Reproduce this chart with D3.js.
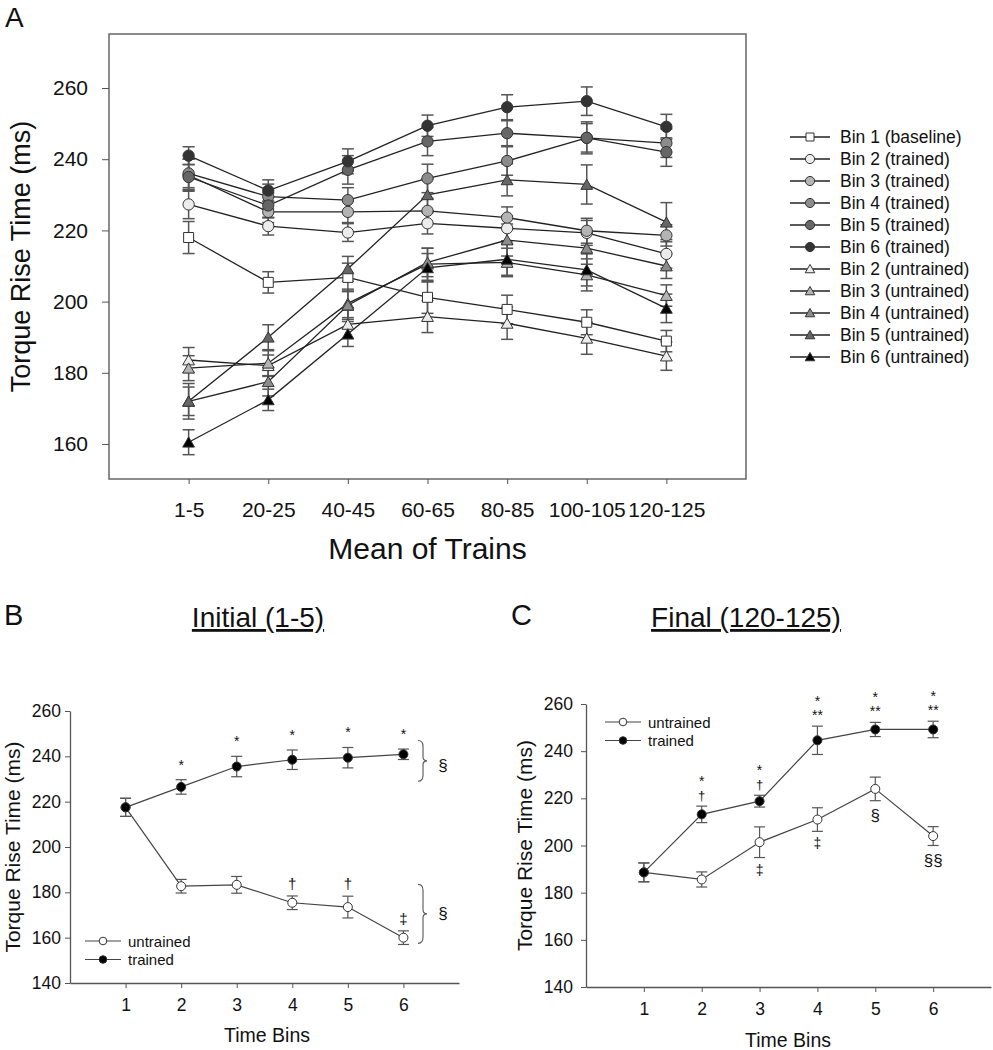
<!DOCTYPE html>
<html><head><meta charset="utf-8">
<script src="https://cdn.jsdelivr.net/npm/d3@7"></script>
<style>body{margin:0;background:#fff}svg{font-family:"Liberation Sans",Arial,sans-serif}</style>
</head><body>
<svg id="c" width="993" height="1050"></svg>
<script>
// ---------- Panel A data ----------
const trainsCats = ["1-5","20-25","40-45","60-65","80-85","100-105","120-125"];
const yTicksA = [160,180,200,220,240,260];
const seriesNamesA = ["Bin 1 (baseline)","Bin 2 (trained)","Bin 3 (trained)","Bin 4 (trained)","Bin 5 (trained)","Bin 6 (trained)","Bin 2 (untrained)","Bin 3 (untrained)","Bin 4 (untrained)","Bin 5 (untrained)","Bin 6 (untrained)"];
const bin1 = [218, 205.4, 206.8, 201.2, 197.8, 194.2, 188.9];
const bin2T = [227.3, 221.2, 219.4, 222, 220.6, 219.3, 213.4];
const bin3T = [235.5, 225.2, 225.2, 225.5, 223.6, 219.9, 218.6];
const bin4T = [236, 229.5, 228.5, 234.6, 239.5, 246, 244.5];
const bin5T = [235, 227, 237, 245, 247.3, 246, 242];
const bin6T = [241, 231.2, 239.4, 249.4, 254.6, 256.3, 249.1];
const bin2U = [183.6, 182, 193.6, 195.8, 193.9, 189.7, 184.7];
const bin3U = [181.3, 182.7, 199.5, 210.5, 211, 207.5, 201.7];
const bin4U = [172, 177.5, 199, 211, 217.3, 215, 210];
const bin5U = [172, 190, 209.2, 230, 234.2, 232.9, 222.3];
const bin6U = [160.5, 172.4, 190.9, 209.5, 211.9, 208.9, 198.1];
const err1 = [4.5, 3, 4, 4.5, 4, 3.5, 3];
const err2T = [4, 2.5, 2.5, 3, 3.5, 3.5, 4];
const err3T = [4.5, 3, 3, 3.5, 3, 3.5, 3];
const err4T = [4, 3.5, 3.5, 4, 4, 4.5, 4];
const err5T = [3.5, 3.5, 4, 4, 3.5, 4, 4];
const err6T = [2.5, 3, 3.5, 3, 3.5, 4, 3.5];
const err2U = [3.5, 3, 4, 4.5, 4.5, 4.5, 4];
const err3U = [3.5, 3.5, 4, 4.5, 4, 4.5, 3];
const err4U = [5, 4, 4, 4, 4.5, 4.5, 3.5];
const err5U = [4, 3.5, 3.5, 4.5, 4.5, 5.5, 5.5];
const err6U = [3.5, 3, 3.5, 4, 4.5, 4.5, 4];

// ---------- Panel B / C data ----------
const timeBins = [1,2,3,4,5,6];
const yTicksBC = [140,160,180,200,220,240,260];
const initTrained = [217.5, 226.5, 235.5, 238.5, 239.4, 240.9];
const initTrainedErr = [4, 3.2, 4.5, 4.3, 4.5, 2.3];
const initUntrained = [217.5, 182.7, 183.3, 175.4, 173.5, 160];
const initUntrainedErr = [4, 3, 3.7, 3, 4.8, 3];
const finTrained = [188.6, 213.2, 218.8, 244.6, 249.2, 249.2];
const finTrainedErr = [4, 3.5, 2.5, 6, 3, 3.5];
const finUntrained = [188.6, 185.6, 201.4, 211, 224, 204];
const finUntrainedErr = [4, 3.2, 6.5, 5, 5, 4];
const initAnnTrained = ["", "*", "*", "*", "*", "*"];
const initAnnUntrained = ["", "", "", "†", "†", "‡"];
const finAnnTop1 = ["", "*", "*", "*", "*", "*"];
const finAnnTop2 = ["", "†", "†", "**", "**", "**"];
const finAnnBottom = ["", "", "‡", "‡", "§", "§§"];

const svg = d3.select("#c");
const lineCol = "#222", errCol = "#555", axisCol = "#555", txt = "#111";

// ================= Panel A =================
const shapes = ["square","circle","circle","circle","circle","circle","triangle","triangle","triangle","triangle","triangle"];
const fills = ["#ffffff","#ececec","#b4b4b4","#8c8c8c","#666666","#333333","#ececec","#b4b4b4","#8c8c8c","#666666","#000000"];
const valsA = [bin1,bin2T,bin3T,bin4T,bin5T,bin6T,bin2U,bin3U,bin4U,bin5U,bin6U];
const errsA = [err1,err2T,err3T,err4T,err5T,err6T,err2U,err3U,err4U,err5U,err6U];

const xA = d3.scaleLinear().domain([-1, trainsCats.length]).range([109, 746]);
const yA = d3.scaleLinear().domain([260,160]).range([88, 444]);
const yTopA = 34, yBotA = 479;

const gA = svg.append("g");
gA.append("rect").attr("x",109).attr("y",yTopA).attr("width",746-109).attr("height",yBotA-yTopA)
  .attr("fill","none").attr("stroke","#666").attr("stroke-width",1.5);

const axLA = d3.axisLeft(yA).tickValues(yTicksA).tickSize(7).tickSizeOuter(0).tickPadding(14);
const gYA = gA.append("g").attr("transform","translate(109,0)").call(axLA);
gYA.select(".domain").remove();
gYA.selectAll("line").attr("stroke","#555");
gYA.selectAll("text").attr("font-size",21).attr("fill",txt).attr("font-family","Liberation Sans, Arial");

const axBA = d3.axisBottom(xA).tickValues(d3.range(trainsCats.length)).tickFormat(i=>trainsCats[i]).tickSize(5).tickSizeOuter(0).tickPadding(18);
const gXA = gA.append("g").attr("transform",`translate(0,${yBotA})`).call(axBA);
gXA.select(".domain").remove();
gXA.selectAll("line").attr("stroke","#555");
gXA.selectAll("text").attr("font-size",21).attr("fill",txt).attr("font-family","Liberation Sans, Arial");

gA.append("text").attr("x",5).attr("y",27).attr("font-size",28).attr("fill",txt).text("A");
gA.append("text").attr("transform",`translate(30,${(yTopA+yBotA)/2}) rotate(-90)`).attr("text-anchor","middle")
  .attr("font-size",27).attr("fill",txt).text("Torque Rise Time (ms)");
gA.append("text").attr("x",xA(3)).attr("y",559).attr("text-anchor","middle").attr("font-size",30).attr("fill",txt).text("Mean of Trains");

function symPath(shape, big){
  if(shape==="square") return d3.symbol(d3.symbolSquare, big?100:64)();
  if(shape==="circle") return d3.symbol(d3.symbolCircle, big?100:66)();
  return d3.symbol(d3.symbolTriangle, big?60:40)();
}
const lineA = d3.line().x((d,i)=>xA(i)).y(d=>yA(d));
valsA.forEach((vals,s)=>{
  const g = gA.append("g");
  vals.forEach((v,i)=>{
    const e = errsA[s][i], x = xA(i);
    g.append("line").attr("x1",x).attr("x2",x).attr("y1",yA(v-e)).attr("y2",yA(v+e)).attr("stroke",errCol).attr("stroke-width",1.5);
    [v-e, v+e].forEach(w=>g.append("line").attr("x1",x-6).attr("x2",x+6).attr("y1",yA(w)).attr("y2",yA(w)).attr("stroke",errCol).attr("stroke-width",1.5));
  });
});
valsA.forEach((vals)=>{
  gA.append("path").attr("d",lineA(vals)).attr("fill","none").attr("stroke",lineCol).attr("stroke-width",1.3);
});
valsA.forEach((vals,s)=>{
  vals.forEach((v,i)=>{
    const dy = shapes[s]==="triangle" ? 1.5 : 0;
    gA.append("path").attr("d",symPath(shapes[s],true)).attr("transform",`translate(${xA(i)},${yA(v)+dy})`)
      .attr("fill",fills[s]).attr("stroke","#333").attr("stroke-width",1);
  });
});
// legend A
const legA = gA.append("g");
seriesNamesA.forEach((n,i)=>{
  const y = 137 + i*22;
  legA.append("line").attr("x1",790).attr("x2",830).attr("y1",y).attr("y2",y).attr("stroke",lineCol).attr("stroke-width",1.3);
  legA.append("path").attr("d",symPath(shapes[i],false)).attr("transform",`translate(810,${y+(shapes[i]==="triangle"?1:0)})`)
    .attr("fill",fills[i]).attr("stroke","#333").attr("stroke-width",1);
  legA.append("text").attr("x",840).attr("y",y+6).attr("font-size",17.5).attr("fill",txt).text(n);
});

// ================= Panels B and C =================
function smallPanel(opt){
  const g = svg.append("g");
  const x = d3.scaleLinear().domain([0,7]).range([opt.x0, opt.x1]);
  const y = d3.scaleLinear().domain([140,260]).range([opt.yb, opt.yt]);
  const ax = d3.axisLeft(y).tickValues(yTicksBC).tickSize(5).tickSizeOuter(0).tickPadding(opt.yPad);
  const gy = g.append("g").attr("transform",`translate(${opt.x0},0)`).call(ax);
  gy.select(".domain").attr("stroke",axisCol).attr("stroke-width",1.3);
  gy.selectAll("line").attr("stroke",axisCol);
  gy.selectAll("text").attr("font-size",17.5).attr("fill",txt).attr("font-family","Liberation Sans, Arial");
  const bx = d3.axisBottom(x).tickValues(timeBins).tickFormat(d3.format("d")).tickSize(5).tickSizeOuter(0).tickPadding(11);
  const gx = g.append("g").attr("transform",`translate(0,${opt.yb})`).call(bx);
  gx.select(".domain").attr("stroke",axisCol).attr("stroke-width",1.3);
  gx.selectAll("line").attr("stroke",axisCol);
  gx.selectAll("text").attr("font-size",17.5).attr("fill",txt).attr("font-family","Liberation Sans, Arial");

  g.append("text").attr("x",opt.letterX).attr("y",625).attr("font-size",29).attr("fill",txt).text(opt.letter);
  g.append("text").attr("x",opt.titleX).attr("y",627).attr("text-anchor","middle").attr("font-size",28)
    .attr("fill",txt).attr("text-decoration","underline").text(opt.title);
  g.append("text").attr("transform",`translate(${opt.ytitleX},${(opt.yt+opt.yb)/2}) rotate(-90)`).attr("text-anchor","middle")
    .attr("font-size",21).attr("fill",txt).text("Torque Rise Time (ms)");
  g.append("text").attr("x",opt.xtitleX).attr("y",opt.xtitleY).attr("text-anchor","middle").attr("font-size",19.5).attr("fill",txt).text("Time Bins");

  const ln = d3.line().x((d,i)=>x(timeBins[i])).y(d=>y(d));
  [[opt.untr,opt.untrErr],[opt.tr,opt.trErr]].forEach(([vals,errs])=>{
    vals.forEach((v,i)=>{
      const e=errs[i], xx=x(timeBins[i]);
      g.append("line").attr("x1",xx).attr("x2",xx).attr("y1",y(v-e)).attr("y2",y(v+e)).attr("stroke",errCol).attr("stroke-width",1.2);
      [v-e,v+e].forEach(w=>g.append("line").attr("x1",xx-5.5).attr("x2",xx+5.5).attr("y1",y(w)).attr("y2",y(w)).attr("stroke",errCol).attr("stroke-width",1.2));
    });
  });
  [opt.untr,opt.tr].forEach(vals=>{
    g.append("path").attr("d",ln(vals)).attr("fill","none").attr("stroke","#444").attr("stroke-width",1.2);
  });
  [[opt.untr,"#fff"],[opt.tr,"#000"]].forEach(([vals,fill])=>{
    vals.forEach((v,i)=>g.append("circle").attr("cx",x(timeBins[i])).attr("cy",y(v)).attr("r",4.5)
      .attr("fill",fill).attr("stroke","#333").attr("stroke-width",1));
  });
  [["untrained","#fff"],["trained","#000"]].forEach(([n,f],i)=>{
    const ly = opt.legY + i*18.5;
    g.append("line").attr("x1",opt.legX).attr("x2",opt.legX+36).attr("y1",ly).attr("y2",ly).attr("stroke","#444").attr("stroke-width",1.2);
    g.append("circle").attr("cx",opt.legX+18).attr("cy",ly).attr("r",3.8).attr("fill",f).attr("stroke","#333");
    g.append("text").attr("x",opt.legX+43).attr("y",ly+5.5).attr("font-size",15).attr("fill",txt).text(n);
  });
  return {g,x,y};
}
function mark(g,x,y,s,size){
  g.append("text").attr("x",x).attr("y",y).attr("text-anchor","middle").attr("font-size",size)
    .attr("font-family","Liberation Sans, Arial").attr("fill",txt).attr("stroke","none").text(s);
}

// Panel B
const B = smallPanel({x0:70,x1:459,yt:711,yb:983,letter:"B",letterX:4,title:"Initial (1-5)",titleX:258,yPad:4,
  ytitleX:20,xtitleX:267,xtitleY:1042,tr:initTrained,trErr:initTrainedErr,untr:initUntrained,untrErr:initUntrainedErr,
  legX:85,legY:941});
initAnnTrained.forEach((a,i)=>{ if(!a) return;
  mark(B.g,B.x(timeBins[i]),B.y(initTrained[i]+initTrainedErr[i])-10,a,14);
});
initAnnUntrained.forEach((a,i)=>{ if(!a) return;
  mark(B.g,B.x(timeBins[i]),B.y(initUntrained[i]+initUntrainedErr[i])-7,a,15);
});
function brace(g,x,y1,y2){
  const m=(y1+y2)/2, w=5;
  g.append("path").attr("d",`M${x},${y1} Q${x+w},${y1} ${x+w},${y1+6} L${x+w},${m-4} Q${x+w},${m} ${x+w+4},${m} Q${x+w},${m} ${x+w},${m+4} L${x+w},${y2-6} Q${x+w},${y2} ${x},${y2}`)
    .attr("fill","none").attr("stroke","#555").attr("stroke-width",1.1);
}
brace(B.g,418,B.y(247),B.y(229));
mark(B.g,443,B.y(236)+6,"§",17);
brace(B.g,418,B.y(183.5),B.y(157.5));
mark(B.g,443,B.y(171)+6,"§",17);

// Panel C
const C = smallPanel({x0:586,x1:991,yt:704,yb:987,letter:"C",letterX:511,title:"Final (120-125)",titleX:746,yPad:8,
  ytitleX:532,xtitleX:788,xtitleY:1047,tr:finTrained,trErr:finTrainedErr,untr:finUntrained,untrErr:finUntrainedErr,
  legX:605,legY:722});
finAnnTop1.forEach((a,i)=>{ if(!a) return;
  const v = finTrained[i]+finTrainedErr[i];
  mark(C.g,C.x(timeBins[i]),C.y(v)-20,a,14);
  mark(C.g,C.x(timeBins[i]),C.y(v)-6,finAnnTop2[i],finAnnTop2[i]==="†"?13:14);
});
finAnnBottom.forEach((a,i)=>{ if(!a) return;
  const v = finUntrained[i]-finUntrainedErr[i];
  mark(C.g,C.x(timeBins[i]),C.y(v)+(a.startsWith("§")?20:17),a,a.startsWith("§")?17:14);
});
</script>
</body></html>
